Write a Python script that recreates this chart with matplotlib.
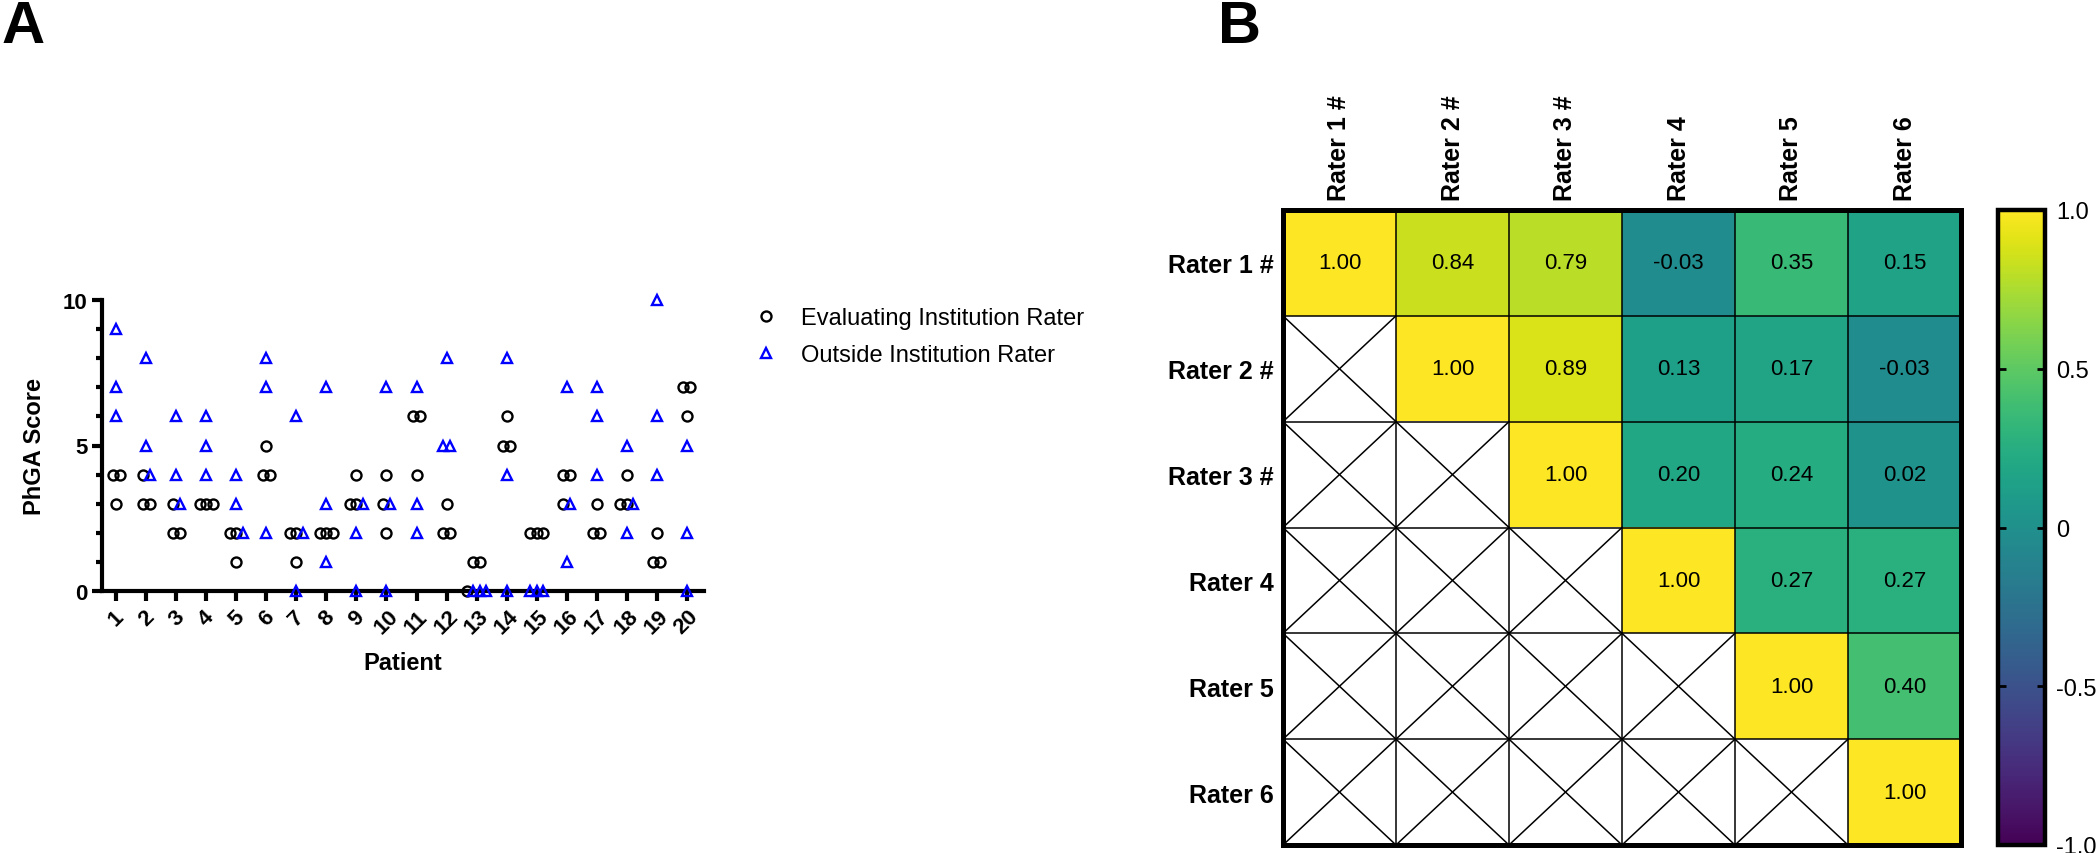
import matplotlib
matplotlib.use("Agg")
import matplotlib.pyplot as plt
import numpy as np

plt.rcParams['font.family'] = ['Liberation Sans', 'DejaVu Sans']

# panel A: PhGA score per patient, 3 raters per institution
patients = list(range(1, 21))
evaluating = [
    [4, 4, 3], [4, 3, 3], [3, 2, 2], [3, 3, 3], [2, 2, 1],
    [5, 4, 4], [2, 2, 1], [2, 2, 2], [4, 3, 3], [4, 3, 2],
    [6, 6, 4], [3, 2, 2], [1, 1, 0], [6, 5, 5], [2, 2, 2],
    [4, 4, 3], [3, 2, 2], [4, 3, 3], [2, 1, 1], [7, 7, 6],
]
outside = [
    [9, 7, 6], [8, 5, 4], [6, 4, 3], [6, 5, 4], [4, 3, 2],
    [8, 7, 2], [6, 2, 0], [7, 3, 1], [3, 2, 0], [7, 3, 0],
    [7, 3, 2], [8, 5, 5], [0, 0, 0], [8, 4, 0], [0, 0, 0],
    [7, 3, 1], [7, 6, 4], [5, 3, 2], [10, 6, 4], [5, 2, 0],
]

# panel B: correlation between raters
raters = ["Rater 1 #", "Rater 2 #", "Rater 3 #", "Rater 4", "Rater 5", "Rater 6"]
corr = [
    [1.00, 0.84, 0.79, -0.03, 0.35, 0.15],
    [None, 1.00, 0.89, 0.13, 0.17, -0.03],
    [None, None, 1.00, 0.20, 0.24, 0.02],
    [None, None, None, 1.00, 0.27, 0.27],
    [None, None, None, None, 1.00, 0.40],
    [None, None, None, None, None, 1.00],
]

W, H = 2100, 854
fig = plt.figure(figsize=(W / 100, H / 100), dpi=100)


def fx(px):
    return px / W


def fy(px):
    return 1 - px / H


# ---------- panel A ----------
axA = fig.add_axes([fx(102), fy(592), fx(704 - 102), (592 - 301) / H])

# spread equal values sideways, like a column scatter
step = 0.22
ex, ey, ox, oy = [], [], [], []
for p, ev, ou in zip(patients, evaluating, outside):
    groups = {}
    for v in ev:
        groups.setdefault(v, []).append('e')
    for v in ou:
        groups.setdefault(v, []).append('o')
    for v, kinds in groups.items():
        n = len(kinds)
        for i, k in enumerate(kinds):
            x = p + (i - (n - 1) / 2) * step
            if k == 'e':
                ex.append(x); ey.append(v)
            else:
                ox.append(x); oy.append(v)

axA.plot(ex, ey, 'o', ms=7.2, mfc='none', mec='black', mew=1.7,
         clip_on=False, zorder=5, label='Evaluating Institution Rater')
axA.plot(ox, oy, '^', ms=7.5, mfc='none', mec='#0000FF', mew=1.7,
         clip_on=False, zorder=5, label='Outside Institution Rater')

axA.set_xlim(0.52, 20.58)
axA.set_ylim(0, 10)
for s in ['top', 'right']:
    axA.spines[s].set_visible(False)
for s in ['left', 'bottom']:
    axA.spines[s].set_linewidth(3)
axA.set_yticks([0, 5, 10])
axA.set_yticks(range(0, 11), minor=True)
axA.set_xticks(patients)
axA.tick_params(axis='both', which='major', length=7, width=3, labelsize=16)
axA.tick_params(axis='y', which='minor', length=4.5, width=3)
axA.set_xticklabels([str(p) for p in patients], rotation=45, ha='center',
                    fontweight='bold')
for t in axA.get_yticklabels():
    t.set_fontweight('bold')
axA.set_ylabel('PhGA Score', fontsize=17, fontweight='bold', labelpad=12)
axA.set_xlabel('Patient', fontsize=17, fontweight='bold', labelpad=9)

axA.legend(loc='upper left', bbox_to_anchor=(fx(754), fy(308)),
           bbox_transform=fig.transFigure, frameon=False, fontsize=17,
           numpoints=1, handlelength=1.0, handletextpad=1.0,
           borderpad=0, borderaxespad=0, labelspacing=0.65)

fig.text(fx(2), fy(0), 'A', fontsize=43, fontweight='bold', va='top', ha='left')
fig.text(fx(1218), fy(0), 'B', fontsize=43, fontweight='bold', va='top', ha='left')

# ---------- panel B ----------
axB = fig.add_axes([fx(1283), fy(846), fx(1961 - 1283), (846 - 211) / H])
n = len(raters)
vals = np.array([[np.nan if v is None else v for v in row] for row in corr])
masked = np.ma.masked_invalid(vals)
im = axB.imshow(masked, cmap='viridis', vmin=-1, vmax=1, aspect='auto',
                extent=(-0.5, n - 0.5, n - 0.5, -0.5))

for i in range(n):
    for j in range(n):
        if corr[i][j] is None:
            axB.plot([j - 0.5, j + 0.5], [i - 0.5, i + 0.5], color='black', lw=1.1)
            axB.plot([j - 0.5, j + 0.5], [i + 0.5, i - 0.5], color='black', lw=1.1)
        else:
            axB.text(j, i, '%.2f' % corr[i][j], ha='center', va='center',
                     fontsize=16, color='black')

for k in range(1, n):
    axB.axhline(k - 0.5, color='black', lw=1.1)
    axB.axvline(k - 0.5, color='black', lw=1.1)

axB.set_xlim(-0.5, n - 0.5)
axB.set_ylim(n - 0.5, -0.5)
axB.xaxis.tick_top()
axB.set_xticks(range(n))
axB.set_yticks(range(n))
axB.set_xticklabels(raters, rotation=90, fontsize=18, fontweight='bold')
axB.set_yticklabels(raters, fontsize=18, fontweight='bold')
axB.tick_params(axis='both', length=0, pad=7)
for s in axB.spines.values():
    s.set_linewidth(3.6)

cax = fig.add_axes([fx(1998), fy(846), fx(2045 - 1998), (846 - 211) / H])
cb = fig.colorbar(im, cax=cax)
cb.set_ticks([-1, -0.5, 0, 0.5, 1])
cb.set_ticklabels(['-1.0', '-0.5', '0', '0.5', '1.0'])
cb.outline.set_linewidth(3.2)
cax.tick_params(direction='in', left=True, right=True, length=6, width=2,
                labelsize=17, pad=8)

fig.savefig('out.png', dpi=100)
